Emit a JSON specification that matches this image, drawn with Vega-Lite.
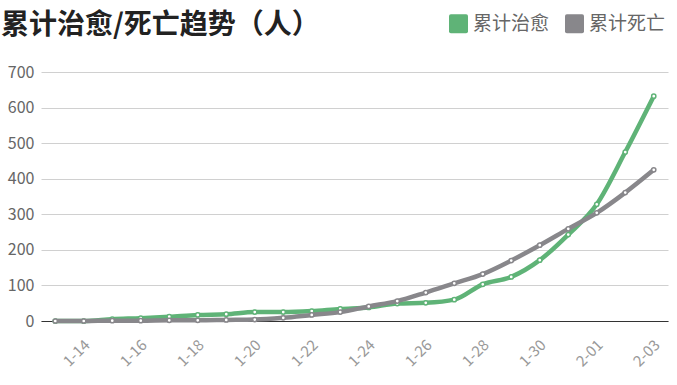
{
  "$schema": "https://vega.github.io/schema/vega-lite/v6.json",
  "width": 627,
  "height": 249,
  "autosize": "none",
  "padding": {"left": 41, "top": 72, "right": 9, "bottom": 64},
  "background": "white",
  "config": {"view": {"stroke": null}, "font": "Noto Sans CJK SC"},
  "title": {
    "text": "累计治愈/死亡趋势（人）",
    "anchor": "start",
    "frame": "group",
    "fontSize": 28,
    "fontWeight": "bold",
    "color": "#222222",
    "dx": -40,
    "baseline": "bottom",
    "offset": 0,
    "dy": 54
  },
  "data": {
    "values": [
      {"date": "1-13", "series": "累计治愈", "value": 0},
      {"date": "1-14", "series": "累计治愈", "value": 0},
      {"date": "1-15", "series": "累计治愈", "value": 5},
      {"date": "1-16", "series": "累计治愈", "value": 8},
      {"date": "1-17", "series": "累计治愈", "value": 12},
      {"date": "1-18", "series": "累计治愈", "value": 17},
      {"date": "1-19", "series": "累计治愈", "value": 19},
      {"date": "1-20", "series": "累计治愈", "value": 25},
      {"date": "1-21", "series": "累计治愈", "value": 25},
      {"date": "1-22", "series": "累计治愈", "value": 28},
      {"date": "1-23", "series": "累计治愈", "value": 34},
      {"date": "1-24", "series": "累计治愈", "value": 38},
      {"date": "1-25", "series": "累计治愈", "value": 49},
      {"date": "1-26", "series": "累计治愈", "value": 51},
      {"date": "1-27", "series": "累计治愈", "value": 60},
      {"date": "1-28", "series": "累计治愈", "value": 103},
      {"date": "1-29", "series": "累计治愈", "value": 124},
      {"date": "1-30", "series": "累计治愈", "value": 171},
      {"date": "1-31", "series": "累计治愈", "value": 243},
      {"date": "2-01", "series": "累计治愈", "value": 328},
      {"date": "2-02", "series": "累计治愈", "value": 475},
      {"date": "2-03", "series": "累计治愈", "value": 632},
      {"date": "1-13", "series": "累计死亡", "value": 0},
      {"date": "1-14", "series": "累计死亡", "value": 0},
      {"date": "1-15", "series": "累计死亡", "value": 1},
      {"date": "1-16", "series": "累计死亡", "value": 1},
      {"date": "1-17", "series": "累计死亡", "value": 2},
      {"date": "1-18", "series": "累计死亡", "value": 2},
      {"date": "1-19", "series": "累计死亡", "value": 3},
      {"date": "1-20", "series": "累计死亡", "value": 4},
      {"date": "1-21", "series": "累计死亡", "value": 9},
      {"date": "1-22", "series": "累计死亡", "value": 17},
      {"date": "1-23", "series": "累计死亡", "value": 25},
      {"date": "1-24", "series": "累计死亡", "value": 41},
      {"date": "1-25", "series": "累计死亡", "value": 56},
      {"date": "1-26", "series": "累计死亡", "value": 80},
      {"date": "1-27", "series": "累计死亡", "value": 106},
      {"date": "1-28", "series": "累计死亡", "value": 132},
      {"date": "1-29", "series": "累计死亡", "value": 170},
      {"date": "1-30", "series": "累计死亡", "value": 213},
      {"date": "1-31", "series": "累计死亡", "value": 259},
      {"date": "2-01", "series": "累计死亡", "value": 304},
      {"date": "2-02", "series": "累计死亡", "value": 361},
      {"date": "2-03", "series": "累计死亡", "value": 425}
    ]
  },
  "encoding": {
    "x": {
      "field": "date",
      "type": "ordinal",
      "sort": null,
      "scale": {"type": "point", "padding": 0.5},
      "axis": {
        "title": null,
        "ticks": false,
        "domain": true,
        "domainColor": "#333333",
        "domainWidth": 1,
        "grid": false,
        "labelAngle": -45,
        "labelAlign": "right",
        "labelBaseline": "middle",
        "labelFontSize": 15,
        "labelColor": "#999999",
        "labelPadding": 21,
        "labelOffset": 3,
        "values": ["1-14", "1-16", "1-18", "1-20", "1-22", "1-24", "1-26", "1-28", "1-30", "2-01", "2-03"]
      }
    },
    "y": {
      "field": "value",
      "type": "quantitative",
      "scale": {"domain": [0, 700], "nice": false},
      "axis": {
        "title": null,
        "domain": false,
        "ticks": false,
        "grid": true,
        "gridColor": "#d0d0d0",
        "labelFontSize": 16,
        "labelColor": "#666666",
        "labelPadding": 7,
        "values": [0, 100, 200, 300, 400, 500, 600, 700]
      }
    },
    "color": {
      "field": "series",
      "type": "nominal",
      "scale": {"domain": ["累计治愈", "累计死亡"], "range": ["#5fb377", "#88878b"]},
      "legend": {
        "title": null,
        "orient": "none",
        "direction": "horizontal",
        "legendX": 408,
        "legendY": -58,
        "padding": 0,
        "symbolType": "M-0.8,-1H0.8Q1,-1,1,-0.8V0.8Q1,1,0.8,1H-0.8Q-1,1,-1,0.8V-0.8Q-1,-1,-0.8,-1Z",
        "symbolSize": 361,
        "symbolStrokeWidth": 0,
        "labelFontSize": 19,
        "labelColor": "#666666",
        "labelOffset": 5,
        "columnPadding": 15,
        "encode": {
          "symbols": {
            "update": {
              "fill": {"scale": "color", "field": "value"},
              "stroke": {"value": "transparent"},
              "opacity": {"value": 1}
            }
          }
        }
      }
    }
  },
  "layer": [
    {
      "transform": [{"filter": "datum.series === '累计治愈'"}],
      "mark": {"type": "line", "interpolate": "monotone", "strokeWidth": 4.5}
    },
    {
      "transform": [{"filter": "datum.series === '累计治愈'"}],
      "mark": {"type": "point", "filled": false, "fill": "white", "size": 18, "strokeWidth": 1.5, "opacity": 1}
    },
    {
      "transform": [{"filter": "datum.series === '累计死亡'"}],
      "mark": {"type": "line", "interpolate": "monotone", "strokeWidth": 4.5}
    },
    {
      "transform": [{"filter": "datum.series === '累计死亡'"}],
      "mark": {"type": "point", "filled": false, "fill": "white", "size": 18, "strokeWidth": 1.5, "opacity": 1}
    }
  ]
}
